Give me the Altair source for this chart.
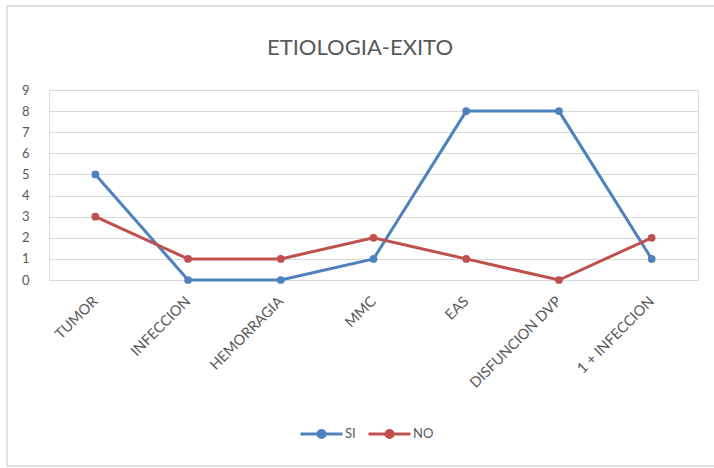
import altair as alt
import pandas as pd

# Etiology categories and outcome counts per series
categories = ["TUMOR", "INFECCION", "HEMORRAGIA", "MMC", "EAS", "DISFUNCION DVP", "1 + INFECCION"]
si_values = [5, 0, 0, 1, 8, 8, 1]
no_values = [3, 1, 1, 2, 1, 0, 2]
series_names = ["SI", "NO"]
series_colors = ["#4F81BD", "#C0504D"]
y_ticks = list(range(0, 10))
chart_title = "ETIOLOGIA-EXITO"

rows = []
for name, vals in zip(series_names, [si_values, no_values]):
    for cat, v in zip(categories, vals):
        rows.append({"categoria": cat, "serie": name, "valor": v})
df = pd.DataFrame(rows)

FONT = "Lato"
TEXT = "#595959"
GRID = "#D9D9D9"

# legend glyph: short line with a dot in the middle
legend_glyph = "M-1,0L1,0M-0.17,0A0.17,0.17 0 1,1 0.17,0A0.17,0.17 0 1,1 -0.17,0"

lines = alt.Chart(df).mark_line(
    strokeWidth=3,
    point=alt.OverlayMarkDef(filled=True, size=60),
).encode(
    x=alt.X(
        "categoria:N",
        sort=categories,
        scale=alt.Scale(type="point", padding=0.5),
        axis=alt.Axis(
            title=None,
            labelAngle=-45,
            labelAlign="right",
            labelBaseline="middle",
            labelPadding=19,
            ticks=False,
            domain=False,
            grid=False,
            labelFont=FONT,
            labelFontSize=14.5,
            labelColor=TEXT,
        ),
    ),
    y=alt.Y(
        "valor:Q",
        scale=alt.Scale(domain=[0, 9], nice=False),
        axis=alt.Axis(
            title=None,
            values=y_ticks,
            ticks=False,
            domain=False,
            gridColor=GRID,
            gridWidth=1,
            labelPadding=20,
            labelFont=FONT,
            labelFontSize=13,
            labelColor=TEXT,
        ),
    ),
    color=alt.Color(
        "serie:N",
        scale=alt.Scale(domain=series_names, range=series_colors),
        legend=alt.Legend(
            title=None,
            orient="none",
            direction="horizontal",
            legendX=250,
            legendY=321,
            symbolType=legend_glyph,
            symbolSize=1760,
            symbolStrokeWidth=3,
            labelOffset=1,
            columnPadding=6,
            labelFont=FONT,
            labelFontSize=13,
            labelColor=TEXT,
        ),
    ),
    order=alt.Order("serie:N"),
)

single = pd.DataFrame({"texto": [chart_title]})

# outer chart frame
frame = alt.Chart(single).mark_rect(
    fill=None, stroke=GRID, strokeWidth=1.5
).encode(
    x=alt.value(-42),
    x2=alt.value(680),
    y=alt.value(-84),
    y2=alt.value(376),
)

# chart heading
heading = alt.Chart(single).mark_text(
    font=FONT, fontSize=22, color=TEXT, align="center", baseline="alphabetic"
).encode(
    text="texto:N",
    x=alt.value(311),
    y=alt.value(-35),
)

chart = alt.layer(frame, heading, lines).properties(
    width=649,
    height=190,
    autosize=alt.AutoSizeParams(type="none"),
    padding={"left": 49, "top": 90, "right": 16, "bottom": 188},
).configure_view(stroke=None).configure(background="white")

chart.save("out.html", embed_options={"renderer": "svg", "actions": False})
